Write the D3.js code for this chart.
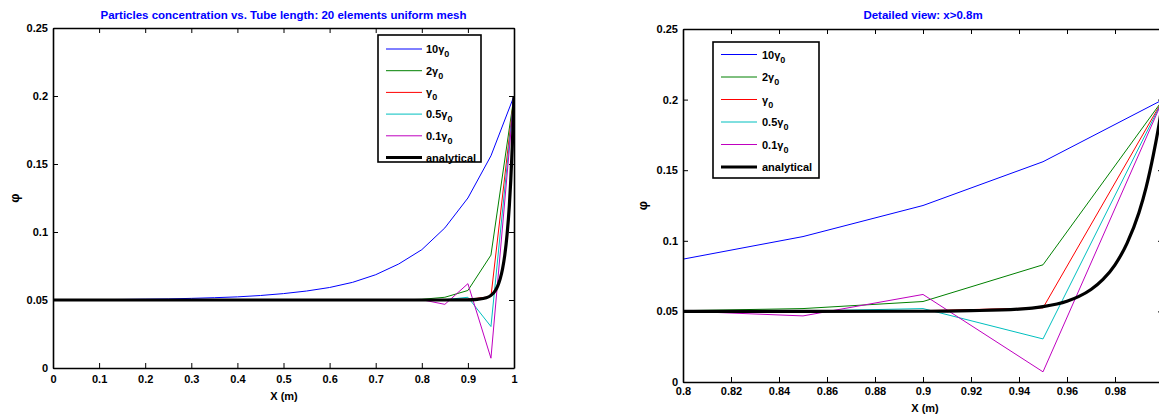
<!DOCTYPE html>
<html>
<head>
<meta charset="utf-8">
<script src="https://cdn.jsdelivr.net/npm/d3@7"></script>
<style>
  html, body { margin: 0; padding: 0; background: #fff; }
  svg { display: block; }
  text { font-family: "Liberation Sans", Arial, sans-serif; font-weight: bold; }
</style>
</head>
<body>
<svg id="chart" width="1159" height="414"></svg>
<script>
// ---------- data ----------
const xMesh = [0, 0.05, 0.1, 0.15, 0.2, 0.25, 0.3, 0.35, 0.4, 0.45, 0.5, 0.55, 0.6, 0.65, 0.7, 0.75, 0.8, 0.85, 0.9, 0.95, 1.0];
const g10  = [0.0501, 0.0502, 0.0503, 0.0504, 0.0506, 0.0508, 0.0512, 0.0517, 0.0523, 0.0533, 0.0547, 0.0566, 0.0592, 0.0630, 0.0686, 0.0765, 0.0870, 0.1030, 0.1250, 0.1560, 0.2000];
const g2   = [0.05, 0.05, 0.05, 0.05, 0.05, 0.05, 0.05, 0.05, 0.05, 0.05, 0.05, 0.05, 0.05, 0.05, 0.05, 0.0501, 0.0505, 0.0520, 0.0570, 0.0830, 0.2000];
const g1   = [0.05, 0.05, 0.05, 0.05, 0.05, 0.05, 0.05, 0.05, 0.05, 0.05, 0.05, 0.05, 0.05, 0.05, 0.05, 0.05, 0.05, 0.0500, 0.0505, 0.0525, 0.2000];
const g05  = [0.05, 0.05, 0.05, 0.05, 0.05, 0.05, 0.05, 0.05, 0.05, 0.05, 0.05, 0.05, 0.05, 0.05, 0.05, 0.05, 0.05, 0.0502, 0.0520, 0.0305, 0.2000];
const g01  = [0.05, 0.05, 0.05, 0.05, 0.05, 0.05, 0.05, 0.05, 0.05, 0.05, 0.05, 0.05, 0.05, 0.05, 0.05, 0.05, 0.0502, 0.0468, 0.0620, 0.0072, 0.2000];
const xAnalytical = [0, 0.5, 0.8, 0.85, 0.9, 0.92, 0.94, 0.95, 0.96, 0.965, 0.97, 0.975, 0.98, 0.985, 0.99, 0.993, 0.996, 0.998, 1.0];
const yAnalytical = [0.05, 0.05, 0.05, 0.05, 0.0501, 0.0505, 0.0516, 0.0534, 0.0572, 0.0606, 0.0655, 0.0726, 0.083, 0.0982, 0.12, 0.138, 0.161, 0.179, 0.2];

const seriesNames  = ["10γ", "2γ", "γ", "0.5γ", "0.1γ", "analytical"];
const seriesColors = ["#0000ff", "#008000", "#ff0000", "#00bfbf", "#bf00bf", "#000000"];

const xTicksLeft  = [0, 0.1, 0.2, 0.3, 0.4, 0.5, 0.6, 0.7, 0.8, 0.9, 1];
const xLabelsLeft = ["0", "0.1", "0.2", "0.3", "0.4", "0.5", "0.6", "0.7", "0.8", "0.9", "1"];
const xTicksRight  = [0.8, 0.82, 0.84, 0.86, 0.88, 0.9, 0.92, 0.94, 0.96, 0.98, 1.0];
const xLabelsRight = ["0.8", "0.82", "0.84", "0.86", "0.88", "0.9", "0.92", "0.94", "0.96", "0.98", ""];
const yTicks  = [0, 0.05, 0.1, 0.15, 0.2, 0.25];
const yLabels = ["0", "0.05", "0.1", "0.15", "0.2", "0.25"];

const titleLeft  = "Particles concentration vs. Tube length: 20 elements uniform mesh";
const titleRight = "Detailed view: x>0.8m";

// ---------- drawing ----------
const svg = d3.select("#chart");
const meshSeries = [g10, g2, g1, g05, g01];

function panel(cfg) {
  const x = d3.scaleLinear().domain(cfg.xDomain).range([cfg.left, cfg.right]);
  const y = d3.scaleLinear().domain([0, 0.25]).range([cfg.bottom, cfg.top]);
  const g = svg.append("g");
  const clipId = "clip" + cfg.id;
  g.append("clipPath").attr("id", clipId).append("rect")
    .attr("x", cfg.left).attr("y", cfg.top)
    .attr("width", cfg.right - cfg.left).attr("height", cfg.bottom - cfg.top);

  const plot = g.append("g").attr("clip-path", `url(#${clipId})`);
  const line = d3.line().x(d => x(d[0])).y(d => y(d[1]));
  meshSeries.forEach((s, i) => {
    plot.append("path")
      .datum(xMesh.map((xv, k) => [xv, s[k]]))
      .attr("d", line)
      .attr("fill", "none")
      .attr("stroke", seriesColors[i])
      .attr("stroke-width", 1);
  });
  plot.append("path")
    .datum(xAnalytical.map((xv, k) => [xv, yAnalytical[k]]))
    .attr("d", d3.line().x(d => x(d[0])).y(d => y(d[1])).curve(d3.curveMonotoneX))
    .attr("fill", "none")
    .attr("stroke", "#000")
    .attr("stroke-width", 3.2);

  // axes
  const fmtX = v => cfg.xLabels[cfg.xTicks.findIndex(t => Math.abs(t - v) < 1e-9)];
  const fmtY = v => yLabels[yTicks.findIndex(t => Math.abs(t - v) < 1e-9)];
  const axB = g.append("g").attr("transform", `translate(0,${cfg.bottom})`)
    .call(d3.axisBottom(x).tickValues(cfg.xTicks).tickFormat(fmtX).tickSizeInner(-5).tickSizeOuter(0).tickPadding(cfg.xPad));
  const axT = g.append("g").attr("transform", `translate(0,${cfg.top})`)
    .call(d3.axisTop(x).tickValues(cfg.xTicks).tickFormat("").tickSizeInner(-5).tickSizeOuter(0));
  const axL = g.append("g").attr("transform", `translate(${cfg.left},0)`)
    .call(d3.axisLeft(y).tickValues(yTicks).tickFormat(fmtY).tickSizeInner(-5).tickSizeOuter(0).tickPadding(5));
  const axR = g.append("g").attr("transform", `translate(${cfg.right},0)`)
    .call(d3.axisRight(y).tickValues(yTicks).tickFormat("").tickSizeInner(-5).tickSizeOuter(0));
  [axB, axT, axL, axR].forEach(a => {
    a.select(".domain").attr("stroke", "#000").attr("stroke-width", 1.6);
    a.selectAll(".tick line").attr("stroke", "#000").attr("stroke-width", 1);
    a.selectAll("text").attr("font-size", 11).attr("fill", "#000")
      .attr("font-family", "'Liberation Sans', Arial, sans-serif").attr("font-weight", "bold");
  });

  // titles / labels
  g.append("text").attr("x", (cfg.left + cfg.right) / 2).attr("y", 19)
    .attr("text-anchor", "middle").attr("font-size", 11.5).attr("fill", "#0000ff")
    .text(cfg.title);
  g.append("text").attr("x", cfg.xLabelX).attr("y", cfg.xLabelY)
    .attr("text-anchor", "middle").attr("font-size", 11).attr("fill", "#000")
    .text("X (m)");
  g.append("text")
    .attr("transform", `translate(${cfg.yLabelX},${(cfg.top + cfg.bottom) / 2}) rotate(-90)`)
    .attr("text-anchor", "middle").attr("dy", "0.35em")
    .attr("font-size", 13).attr("fill", "#000")
    .text("φ");

  // legend
  const L = cfg.legend;
  const lg = g.append("g");
  lg.append("rect").attr("x", L.x0).attr("y", L.y0).attr("width", L.x1 - L.x0).attr("height", L.y1 - L.y0)
    .attr("fill", "#fff").attr("stroke", "#000").attr("stroke-width", 1.6);
  seriesNames.forEach((name, i) => {
    const yy = L.firstY + i * L.step;
    lg.append("line").attr("x1", L.lineX0).attr("x2", L.lineX1).attr("y1", yy).attr("y2", yy)
      .attr("stroke", seriesColors[i]).attr("stroke-width", i === 5 ? 3.2 : 1);
    const t = lg.append("text").attr("x", L.textX).attr("y", yy + 4).attr("font-size", 11).attr("fill", "#000");
    t.append("tspan").text(name);
    if (i < 5) t.append("tspan").attr("font-size", 9).attr("dy", 4).text("0");
  });
}

panel({
  id: "L", left: 53, right: 514, top: 28, bottom: 368,
  xDomain: [0, 1], xTicks: xTicksLeft, xLabels: xLabelsLeft, xPad: 7,
  title: titleLeft, xLabelX: 284, xLabelY: 400, yLabelX: 14,
  legend: { x0: 378, x1: 481, y0: 35, y1: 162, firstY: 49, step: 21.7, lineX0: 386, lineX1: 422, textX: 426 }
});
panel({
  id: "R", left: 683, right: 1163, top: 29, bottom: 382,
  xDomain: [0.8, 1.0], xTicks: xTicksRight, xLabels: xLabelsRight, xPad: 5,
  title: titleRight, xLabelX: 925, xLabelY: 412, yLabelX: 642,
  legend: { x0: 713, x1: 819, y0: 42, y1: 178, firstY: 54.5, step: 22.5, lineX0: 721, lineX1: 757, textX: 762 }
});
</script>
</body>
</html>
